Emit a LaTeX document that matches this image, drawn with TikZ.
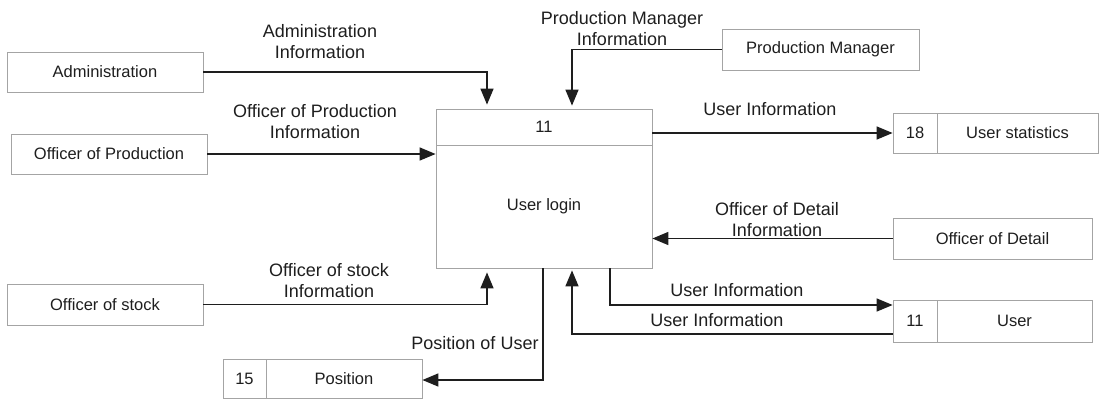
\documentclass[tikz,border=0pt]{standalone}
\usepackage{fontspec}
\setmainfont{Liberation Sans}
\usetikzlibrary{arrows.meta,calc}
\definecolor{ink}{HTML}{1E1E1E}
\definecolor{frame}{HTML}{A4A4A4}
\tikzset{
  boxtext/.style={font=\fontsize{16.5}{19}\selectfont, text=ink},
  entity/.style={boxtext, draw=frame, line width=0.8pt, rectangle, inner sep=0pt},
  cell/.style={entity},
  flow/.style={draw=ink, line width=1.5pt, -{Triangle[length=16pt,width=13pt]}},
  flowlabel/.style={font=\fontsize{18}{21}\selectfont, text=ink, align=center, inner sep=0pt}
}
\begin{document}
\begin{tikzpicture}[x=1pt,y=-1pt]
\useasboundingbox (0,0) rectangle (1101,400);

% external entities
\node[entity, minimum width=196pt, minimum height=40pt] (adm)  at (105,72)    {Administration};
\node[entity, minimum width=196pt, minimum height=40pt] (offp) at (109,154)   {Officer of Production};
\node[entity, minimum width=196pt, minimum height=41pt] (offs) at (105,304.5) {Officer of stock};
\node[entity, minimum width=197pt, minimum height=41pt] (pm)   at (820.5,49.5) {Production Manager};
\node[entity, minimum width=199pt, minimum height=41pt] (offd) at (992.5,238.5) {Officer of Detail};

% process
\node[entity, minimum width=216pt, minimum height=159pt] (proc) at (544,188.5) {};
\draw[draw=frame, line width=0.8pt] (436,145) -- (652,145);
\node[boxtext] (procid)   at (544,127)   {11};
\node[boxtext] (procname) at (544,206.5) {User login};

% data stores
\node[cell, minimum width=44pt,  minimum height=40pt] (ustatid)  at (915,133)    {18};
\node[cell, minimum width=161pt, minimum height=40pt] (ustat)    at (1017.5,133) {User statistics};
\node[cell, minimum width=44pt,  minimum height=42pt] (userid)   at (915,321)    {11};
\node[cell, minimum width=155pt, minimum height=42pt] (user)     at (1014.5,321) {User};
\node[cell, minimum width=43pt,  minimum height=39pt] (posid)    at (244.5,378.5) {15};
\node[cell, minimum width=156pt, minimum height=39pt] (posname)  at (344,378.5)  {Position};

% data flows
\draw[flow, shorten >=4pt] (adm.east) -| ([xshift=-57pt]proc.north);
\draw[flow] (offp.east) -- (offp.east -| proc.west);
\draw[flow, shorten >=3pt] (pm.west) -| ([xshift=28pt]proc.north);
\draw[flow] (proc.east |- ustatid.west) -- (ustatid.west);
\draw[flow] (offd.west) -- (offd.west -| proc.east);
\draw[flow, shorten >=4pt] (offs.east) -| ([xshift=-57pt]proc.south);
\draw[flow] ([xshift=-1pt]proc.south) |- ([yshift=-1.5pt]posname.east);
\draw[flow] ([xshift=66pt]proc.south) |- ([yshift=16pt]userid.west);
\draw[flow, shorten >=2pt] ([yshift=-13pt]userid.west) -| ([xshift=28pt]proc.south);

% flow labels
\node[flowlabel] (l1) at (320,41.5)  {Administration\\Information};
\node[flowlabel] (l2) at (315,122)   {Officer of Production\\Information};
\node[flowlabel] (l3) at (622,29)    {Production Manager\\Information};
\node[flowlabel] (l4) at (770,109)   {User Information};
\node[flowlabel] (l5) at (777,219.5) {Officer of Detail\\Information};
\node[flowlabel] (l6) at (329,280.5) {Officer of stock\\Information};
\node[flowlabel] (l7) at (737,290)   {User Information};
\node[flowlabel] (l8) at (717,320)   {User Information};
\node[flowlabel] (l9) at (475,343)   {Position of User};
\end{tikzpicture}
\end{document}
